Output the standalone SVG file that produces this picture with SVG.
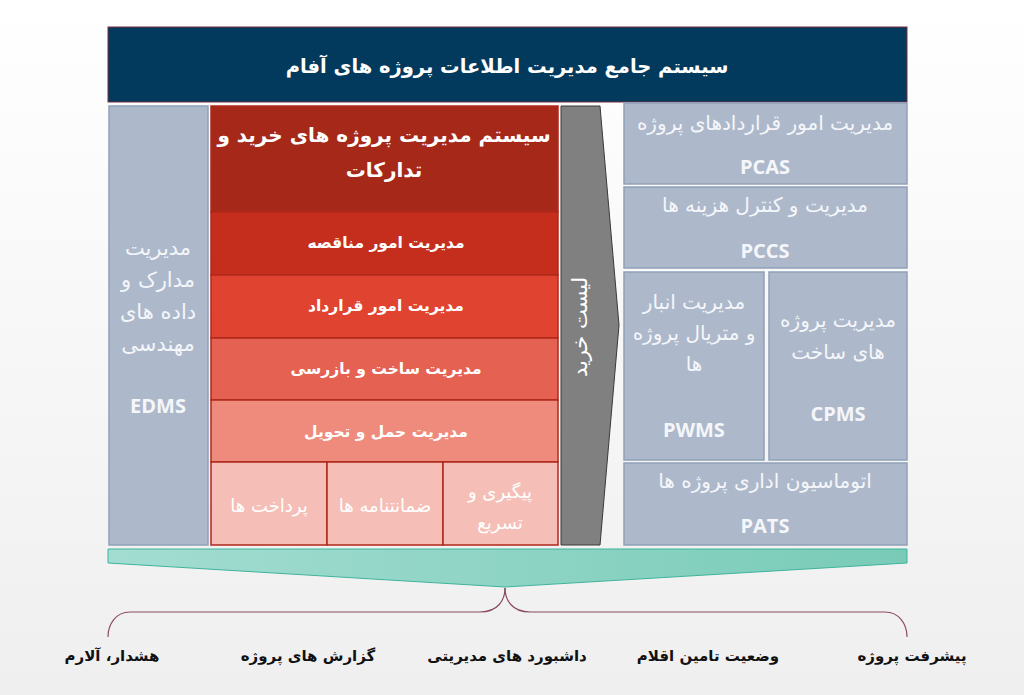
<svg xmlns="http://www.w3.org/2000/svg" width="1024" height="695" viewBox="0 0 1024 695">
<defs>
<linearGradient id="bg" x1="0" y1="0" x2="0" y2="1"><stop offset="0" stop-color="#ffffff"/><stop offset="1" stop-color="#efefef"/></linearGradient>
<linearGradient id="teal" x1="0" y1="0" x2="1" y2="0"><stop offset="0" stop-color="#a3ddd1"/><stop offset="1" stop-color="#79cbb8"/></linearGradient>
<style>
text{font-family:"DejaVu Sans",sans-serif;text-anchor:middle;dominant-baseline:central;direction:rtl}
.w{fill:#ffffff}
.wb{fill:#f4f6fa}
.lat{font-family:"Open Sans","DejaVu Sans",sans-serif;font-weight:bold;font-size:20px;direction:ltr}
.blue{fill:#adb9ca;stroke:#8ea1b9;stroke-width:1.5}
.red{stroke:#b0271b;stroke-width:1.5}
.lbl{fill:#111;font-weight:bold;font-size:15px}
</style>
</defs>
<rect width="1024" height="695" fill="url(#bg)"/>
<g id="title">
<rect x="108" y="27" width="799" height="75" fill="#023a5d" stroke="#7a2c3c" stroke-width="1"/>
<text class="w" x="507" y="66" font-size="19.5" font-weight="bold">سیستم جامع مدیریت اطلاعات پروژه های آفام</text>
</g>
<g id="edms">
<rect class="blue" x="109" y="106" width="99" height="439"/>
<text class="wb" x="158" y="248" font-size="21">مدیریت</text>
<text class="wb" x="158" y="280" font-size="21">مدارک و</text>
<text class="wb" x="158" y="312" font-size="21">داده های</text>
<text class="wb" x="158" y="344" font-size="21">مهندسی</text>
<text class="wb lat" x="158" y="405">EDMS</text>
</g>
<g id="procurement">
<rect class="red" x="211" y="106" width="347" height="106" fill="#a62818"/>
<text class="w" x="384" y="135" font-size="20" font-weight="bold">سیستم مدیریت پروژه های خرید و</text>
<text class="w" x="384" y="170" font-size="20" font-weight="bold">تدارکات</text>
</g>
<g id="tender">
<rect class="red" x="211" y="212" width="347" height="63" fill="#c52d1d"/>
<text class="w" x="386" y="243" font-size="15.5" font-weight="bold">مدیریت امور مناقصه</text>
</g>
<g id="contract">
<rect class="red" x="211" y="275" width="347" height="63" fill="#e04430"/>
<text class="w" x="386" y="306" font-size="15.5" font-weight="bold">مدیریت امور قرارداد</text>
</g>
<g id="inspection">
<rect class="red" x="211" y="338" width="347" height="62" fill="#e56152"/>
<text class="w" x="386" y="369" font-size="15.5" font-weight="bold">مدیریت ساخت و بازرسی</text>
</g>
<g id="delivery">
<rect class="red" x="211" y="400" width="347" height="62" fill="#ef8b7c"/>
<text class="w" x="386" y="432" font-size="15.5" font-weight="bold">مدیریت حمل و تحویل</text>
</g>
<g id="payments">
<rect class="red" x="211" y="462" width="116" height="83" fill="#f5bfb8"/>
<text class="w" x="269" y="505" font-size="18">پرداخت ها</text>
</g>
<g id="guarantees">
<rect class="red" x="327" y="462" width="116" height="83" fill="#f5bfb8"/>
<text class="w" x="385" y="505" font-size="18">ضمانتنامه ها</text>
</g>
<g id="expediting">
<rect class="red" x="443" y="462" width="115" height="83" fill="#f5bfb8"/>
<text class="w" x="500" y="491" font-size="18">پیگیری و</text>
<text class="w" x="500" y="522" font-size="18">تسریع</text>
</g>
<g id="purchase-list">
<polygon points="561,106 600,106 619,325 600,545 561,545" fill="#808080" stroke="#3a3a3a" stroke-width="1"/>
<text class="w" transform="translate(580,327) rotate(-90)" x="0" y="0" font-size="21">لیست خرید</text>
</g>
<g id="pcas">
<rect class="blue" x="624" y="103" width="283" height="81"/>
<text class="wb" x="765" y="123" font-size="20">مدیریت امور قراردادهای پروژه</text>
<text class="wb lat" x="765" y="166">PCAS</text>
</g>
<g id="pccs">
<rect class="blue" x="624" y="187" width="283" height="81"/>
<text class="wb" x="765" y="205" font-size="20">مدیریت و کنترل هزینه ها</text>
<text class="wb lat" x="765" y="250">PCCS</text>
</g>
<g id="pwms">
<rect class="blue" x="624" y="272" width="140" height="188"/>
<text class="wb" x="694" y="302" font-size="20">مدیریت انبار</text>
<text class="wb" x="694" y="333" font-size="20">و متریال پروژه</text>
<text class="wb" x="694" y="364" font-size="20">ها</text>
<text class="wb lat" x="694" y="429">PWMS</text>
</g>
<g id="cpms">
<rect class="blue" x="769" y="272" width="138" height="188"/>
<text class="wb" x="838" y="320" font-size="20">مدیریت پروژه</text>
<text class="wb" x="838" y="352" font-size="20">های ساخت</text>
<text class="wb lat" x="838" y="413">CPMS</text>
</g>
<g id="pats">
<rect class="blue" x="624" y="463" width="283" height="82"/>
<text class="wb" x="765" y="481" font-size="20">اتوماسیون اداری پروژه ها</text>
<text class="wb lat" x="765" y="525">PATS</text>
</g>
<g id="outputs">
<polygon points="108,549 907,549 907,563 505,587 108,563" fill="url(#teal)" stroke="#3fb39c" stroke-width="1"/>
</g>
<g id="connectors">
<path d="M505,588 C505,600 498,612 480,612 L130,612 C116,612 108,624 108,637" fill="none" stroke="#8a4a5e" stroke-width="1.2"/>
<path d="M505,588 C505,600 512,612 530,612 L885,612 C899,612 907,624 907,637" fill="none" stroke="#8a4a5e" stroke-width="1.2"/>
</g>
<g id="labels">
<text class="lbl" x="112" y="656">هشدار، آلارم</text>
<text class="lbl" x="308" y="656">گزارش های پروژه</text>
<text class="lbl" x="507" y="656">داشبورد های مدیریتی</text>
<text class="lbl" x="708" y="656">وضعیت تامین اقلام</text>
<text class="lbl" x="912" y="656">پیشرفت پروژه</text>
</g>
</svg>
